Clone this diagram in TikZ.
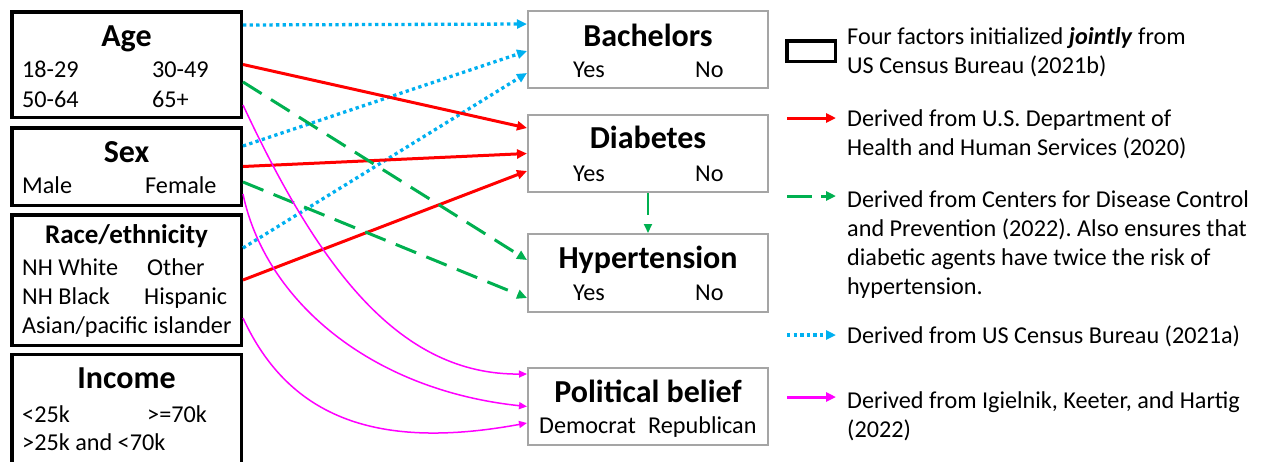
\documentclass[tikz,border=0pt]{standalone}
\usepackage{fontspec}
\setmainfont{Carlito}
\usetikzlibrary{arrows.meta}
\definecolor{hhsred}{HTML}{FF0000}
\definecolor{cdcgreen}{HTML}{00B050}
\definecolor{censusblue}{HTML}{00B0F0}
\definecolor{pewmagenta}{HTML}{FF00FF}
\definecolor{boxgray}{HTML}{A5A5A5}
\frenchspacing
\tikzset{
  factor/.style={draw=black, line width=3.5pt, minimum width=229.5pt, inner sep=0pt},
  outcome/.style={draw=boxgray, line width=2pt, minimum width=240pt, inner sep=0pt},
  title/.style={anchor=base, inner sep=0pt, font=\bfseries\fontsize{32}{38}\selectfont},
  level/.style={anchor=base west, inner sep=0pt, font=\fontsize{24.2}{29}\selectfont},
  legtext/.style={anchor=north west, inner sep=0pt, align=left, font=\fontsize{24.2}{29}\selectfont},
  hhs/.style={draw=hhsred, line width=3pt, -{Triangle[length=10pt,width=9pt]}},
  cdc/.style={draw=cdcgreen, line width=3pt, dash pattern=on 22pt off 11pt, -{Triangle[length=10pt,width=9pt]}},
  census/.style={draw=censusblue, line width=3.3pt, dash pattern=on 3.3pt off 3.3pt, -{Triangle[length=10pt,width=9pt]}},
  pew/.style={draw=pewmagenta, line width=1.5pt, -{Triangle[length=8pt,width=7pt]}}
}
\begin{document}
\begin{tikzpicture}[x=1pt, y=-1pt]
\useasboundingbox (0,0) rectangle (1262,461);
% joint factors
\node[factor, minimum height=105.5pt] (age) at (126.5,64.5) {};
\node[title] (agettl) at (126.5,46) {Age};
\node[level] (a1) at (22,77) {18-29};
\node[level] (a2) at (152,77) {30-49};
\node[level] (a3) at (22,107) {50-64};
\node[level] (a4) at (152,107) {65+};
\node[factor, minimum height=77.5pt] (sex) at (126.5,166.5) {};
\node[title] (sexttl) at (126.5,162) {Sex};
\node[level] (s1) at (22,193) {Male};
\node[level] (s2) at (145,193) {Female};
\node[factor, minimum height=130.5pt] (race) at (126.5,280) {};
\node[title, font=\bfseries\fontsize{27}{32}\selectfont] (racettl) at (126.5,243) {Race/ethnicity};
\node[level] (r1) at (22,275) {NH White};
\node[level] (r2) at (147,275) {Other};
\node[level] (r3) at (22,304) {NH Black};
\node[level] (r4) at (144,304) {Hispanic};
\node[level] (r5) at (22,333) {Asian/pacific islander};
\node[factor, minimum height=125pt] (inc) at (126.5,417) {};
\node[title] (incttl) at (126.5,388) {Income};
\node[level] (i1) at (22,422) {<25k};
\node[level] (i2) at (147,422) {>=70k};
\node[level] (i3) at (22,450) {>25k and <70k};
% derived factors
\node[outcome, minimum height=77pt] (bach) at (648,49.5) {};
\node[title] (bachttl) at (648,46) {Bachelors};
\node[level] (b1) at (573,77) {Yes};
\node[level] (b2) at (695,77) {No};
\node[outcome, minimum height=77pt] (diab) at (648,153.5) {};
\node[title] (diabttl) at (648,148) {Diabetes};
\node[level] (d1) at (573,181) {Yes};
\node[level] (d2) at (695,181) {No};
\node[outcome, minimum height=78pt] (hyp) at (648,273) {};
\node[title] (hypttl) at (648,268) {Hypertension};
\node[level] (h1) at (573,300) {Yes};
\node[level] (h2) at (695,300) {No};
\node[outcome, minimum height=77pt] (pol) at (648,406.5) {};
\node[title] (polttl) at (648,402) {Political belief};
\node[level] (p1) at (539,433) {Democrat};
\node[level] (p2) at (648,433) {Republican};
% arrows
\draw[census] ([yshift=39.5pt]age.east) -- ([yshift=25.5pt]bach.west);
\draw[census] ([yshift=20.5pt]sex.east) -- ([yshift=-1.5pt]bach.west);
\draw[census] ([yshift=32pt]race.east) -- ([yshift=-23.5pt]bach.west);
\draw[hhs] (age.east) -- ([yshift=25.5pt]diab.west);
\draw[hhs] (sex.east) -- (diab.west);
\draw[hhs] (race.east) -- ([yshift=-17.5pt]diab.west);
\draw[cdc] ([yshift=-17.5pt]age.east) -- ([yshift=13pt]hyp.west);
\draw[cdc] ([yshift=-15.5pt]sex.east) -- ([yshift=-25pt]hyp.west);
\draw[cdc, line width=2pt, -{Triangle[length=9pt,width=8pt]}] (diab.south) -- (hyp.north);
\draw[pew] ([yshift=-40.5pt]age.east) .. controls (320,270) and (400,375) .. ([yshift=32.5pt]pol.west);
\draw[pew] ([yshift=-27.5pt]sex.east) .. controls (265,300) and (370,390) .. (pol.west);
\draw[pew] ([yshift=-38pt]race.east) .. controls (290,420) and (380,450) .. ([yshift=-16.5pt]pol.west);
% legend
\node[draw=black, line width=3.5pt, minimum width=48.5pt, minimum height=20.5pt, inner sep=0pt] (legbox) at (811,51) {};
\node[legtext] (legjoint) at (847,23.6) {\strut Four factors initialized \textbf{\textit{jointly}} from\\US Census Bureau (2021b)};
\coordinate (hhsa) at (787,118);
\coordinate (hhsb) at (836,118);
\draw[hhs] (hhsa) -- (hhsb);
\node[legtext] (leghhs) at (847,105.6) {\strut Derived from U.S. Department of\\Health and Human Services (2020)};
\coordinate (cdca) at (787,196);
\coordinate (cdcb) at (836,196);
\draw[cdc, dash pattern=on 25pt off 9pt] (cdca) -- (cdcb);
\node[legtext] (legcdc) at (847,186.6) {\strut Derived from Centers for Disease Control\\and Prevention (2022). Also ensures that\\diabetic agents have twice the risk of\\hypertension.};
\coordinate (censusa) at (787,335);
\coordinate (censusb) at (836,335);
\draw[census] (censusa) -- (censusb);
\node[legtext] (legcensus) at (847,322.6) {\strut Derived from US Census Bureau (2021a)};
\coordinate (pewa) at (787,397);
\coordinate (pewb) at (836,397);
\draw[pew, line width=3pt, -{Triangle[length=10pt,width=9pt]}] (pewa) -- (pewb);
\node[legtext] (legpew) at (847,387.6) {\strut Derived from Igielnik, Keeter, and Hartig\\(2022)};
\end{tikzpicture}
\end{document}
